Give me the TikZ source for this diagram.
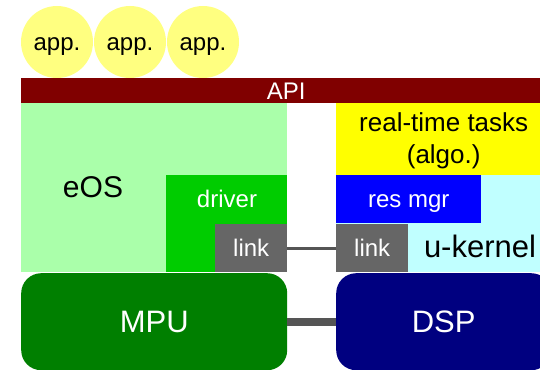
\documentclass[tikz,border=0pt]{standalone}
\usepackage{fontspec}
\setmainfont{Liberation Sans}

\definecolor{appyellow}{RGB}{255,255,128}
\definecolor{apired}{RGB}{128,0,0}
\definecolor{eosgreen}{RGB}{170,255,170}
\definecolor{drvgreen}{RGB}{0,204,0}
\definecolor{linkgray}{RGB}{102,102,102}
\definecolor{busgray}{RGB}{85,85,85}
\definecolor{rtyellow}{RGB}{255,255,0}
\definecolor{resblue}{RGB}{0,0,255}
\definecolor{ukcyan}{RGB}{192,255,255}
\definecolor{mpugreen}{RGB}{0,127,0}
\definecolor{dspblue}{RGB}{0,0,128}

\begin{document}
\begin{tikzpicture}[x=1pt, y=-1pt,
    box/.style={rectangle, inner sep=0pt, anchor=north west},
    lbl/.style={font=\fontsize{24}{28}\selectfont, text height=16.6pt, text depth=0pt},
    big/.style={font=\fontsize{31}{36}\selectfont, text height=21.4pt, text depth=0pt},
    app/.style={circle, fill=appyellow, minimum size=72pt, inner sep=0pt, lbl},
    cpu/.style={box, rounded corners=20pt, minimum width=#1, minimum height=97pt, big, text=white},
    bus/.style={busgray, line width=#1}]
            \useasboundingbox (0,0) rectangle (540,369);

            % Applications on top
            \foreach \i/\x in {1/57, 2/130, 3/203}
                \node[app] (app\i) at (\x,42) {app.};

            % API bar
            \node[box, fill=apired, minimum width=530pt, minimum height=25pt, lbl, text=white] (api) at (21,78) {API};

            % eOS side
            \node[box, fill=eosgreen, minimum width=266pt, minimum height=169pt] (eos) at (21,103) {};
            \node[font=\fontsize{30}{36}\selectfont, anchor=base] (eostxt) at (93,197) {eOS};
            \node[box, fill=drvgreen, minimum width=121pt, minimum height=97pt] (driver) at (166,175) {};
            \node[lbl, text=white, anchor=base] (drvtxt) at (227,207) {driver};
            \node[box, fill=linkgray, minimum width=72pt, minimum height=48pt, lbl, text=white] (linkL) at (215,224) {link};

            % u-kernel side
            \node[box, fill=ukcyan, minimum width=215pt, minimum height=97pt] (ukernel) at (336,175) {};
            \node[big, anchor=base] (uktxt) at (480,257) {u-kernel};
            \node[box, fill=rtyellow, minimum width=215pt, minimum height=72pt, align=center, text depth=1.5pt,
                  font=\fontsize{26}{32}\selectfont] (rt) at (336,103) {real-time tasks\\(algo.)};
            \node[box, fill=resblue, minimum width=145pt, minimum height=48pt, lbl, text=white] (resmgr) at (336,175) {res mgr};
            \node[box, fill=linkgray, minimum width=72pt, minimum height=48pt, lbl, text=white] (linkR) at (336,224) {link};

            % Processors
            \node[cpu=266pt, fill=mpugreen] (mpu) at (21,273) {MPU};
            \node[cpu=215pt, fill=dspblue] (dsp) at (336,273) {DSP};

            % Connections
            \draw[bus=3pt] (linkL) -- (linkR);
            \draw[bus=8pt] (mpu) -- (dsp);
        \end{tikzpicture}
\end{document}
